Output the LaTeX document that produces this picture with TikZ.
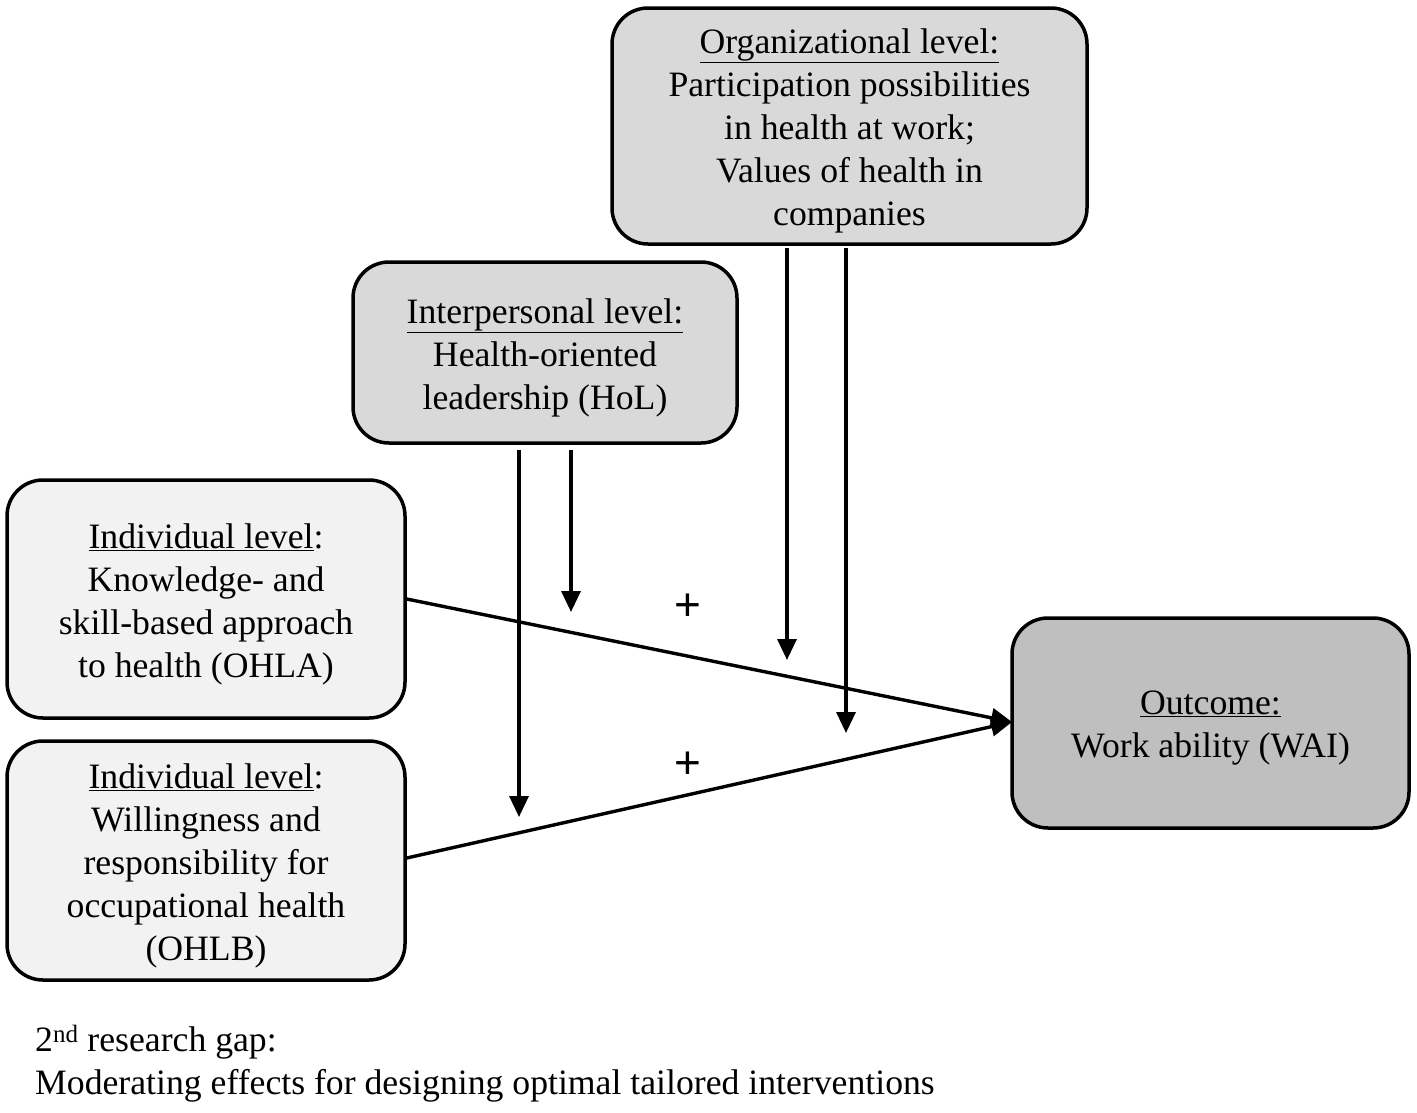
\documentclass[tikz,border=0pt]{standalone}
\usepackage{fontspec}
\setmainfont{Liberation Serif}
\newfontfamily\plusfont{Liberation Sans}
\usetikzlibrary{arrows.meta,calc}
\definecolor{midgray}{HTML}{D9D9D9}
\definecolor{lightgray2}{HTML}{F2F2F2}
\definecolor{darkgray2}{HTML}{BFBFBF}
\begin{document}
\begin{tikzpicture}[x=1pt,y=-1pt,
  box/.style={draw=black, line width=3.5pt, rounded corners=36pt, inner sep=0pt},
  boxtext/.style={align=center, inner sep=0pt, font=\fontsize{35.7}{43}\selectfont},
  arr/.style={line width=3.4pt, -{Triangle[length=21pt,width=19pt]}},
  plus/.style={font=\plusfont\fontsize{46}{50}\selectfont, inner sep=0pt}]
\useasboundingbox (0,0) rectangle (1417,1112);
\node[box, fill=midgray, minimum width=475pt, minimum height=236pt] (org) at (849.5,126) {};
\node[boxtext] (orgt) at ($(org.center)+(0,5)$)
  {\underline{Organizational level:}\\Participation possibilities\\in health at work;\\Values of health in\\companies};
\node[box, fill=midgray, minimum width=384pt, minimum height=181pt] (hol) at (545,352.5) {};
\node[boxtext] (holt) at ($(hol.center)+(0,5)$)
  {\underline{Interpersonal level:}\\Health-oriented\\leadership (HoL)};
\node[box, fill=lightgray2, minimum width=398pt, minimum height=238pt] (ind1) at (206,599) {};
\node[boxtext] (ind1t) at ($(ind1.center)+(0,5)$)
  {\underline{Individual level}:\\Knowledge- and\\skill-based approach\\to health (OHLA)};
\node[box, fill=lightgray2, minimum width=398pt, minimum height=239pt] (ind2) at (206,860.5) {};
\node[boxtext] (ind2t) at ($(ind2.center)+(0,5)$)
  {\underline{Individual level}:\\Willingness and\\responsibility for\\occupational health\\(OHLB)};
\node[box, fill=darkgray2, minimum width=397pt, minimum height=210pt] (out) at (1210.5,723) {};
\node[boxtext] (outt) at ($(out.center)+(0,5)$)
  {\underline{Outcome:}\\Work ability (WAI)};
\coordinate (t1) at (1012,722);
\draw[arr] (ind1.east) -- (t1);
\draw[arr] (ind2.east |- 0,858) -- (t1);
\coordinate (h1s) at (519,450); \coordinate (h1e) at (519,817);
\coordinate (h2s) at (571,450); \coordinate (h2e) at (571,612);
\coordinate (o1s) at (787,248); \coordinate (o1e) at (787,660);
\coordinate (o2s) at (846,248); \coordinate (o2e) at (846,733);
\draw[arr] (h1s) -- (h1e);
\draw[arr] (h2s) -- (h2e);
\draw[arr] (o1s) -- (o1e);
\draw[arr] (o2s) -- (o2e);
\node[plus] (p1) at (688,607) {+};
\node[plus] (p2) at (688,765) {+};
\node[anchor=west, align=left, inner sep=0pt, font=\fontsize{35.7}{43}\selectfont] (gap) at (35,1064)
  {2\textsuperscript{nd} research gap:\\Moderating effects for designing optimal tailored interventions};
\end{tikzpicture}
\end{document}
